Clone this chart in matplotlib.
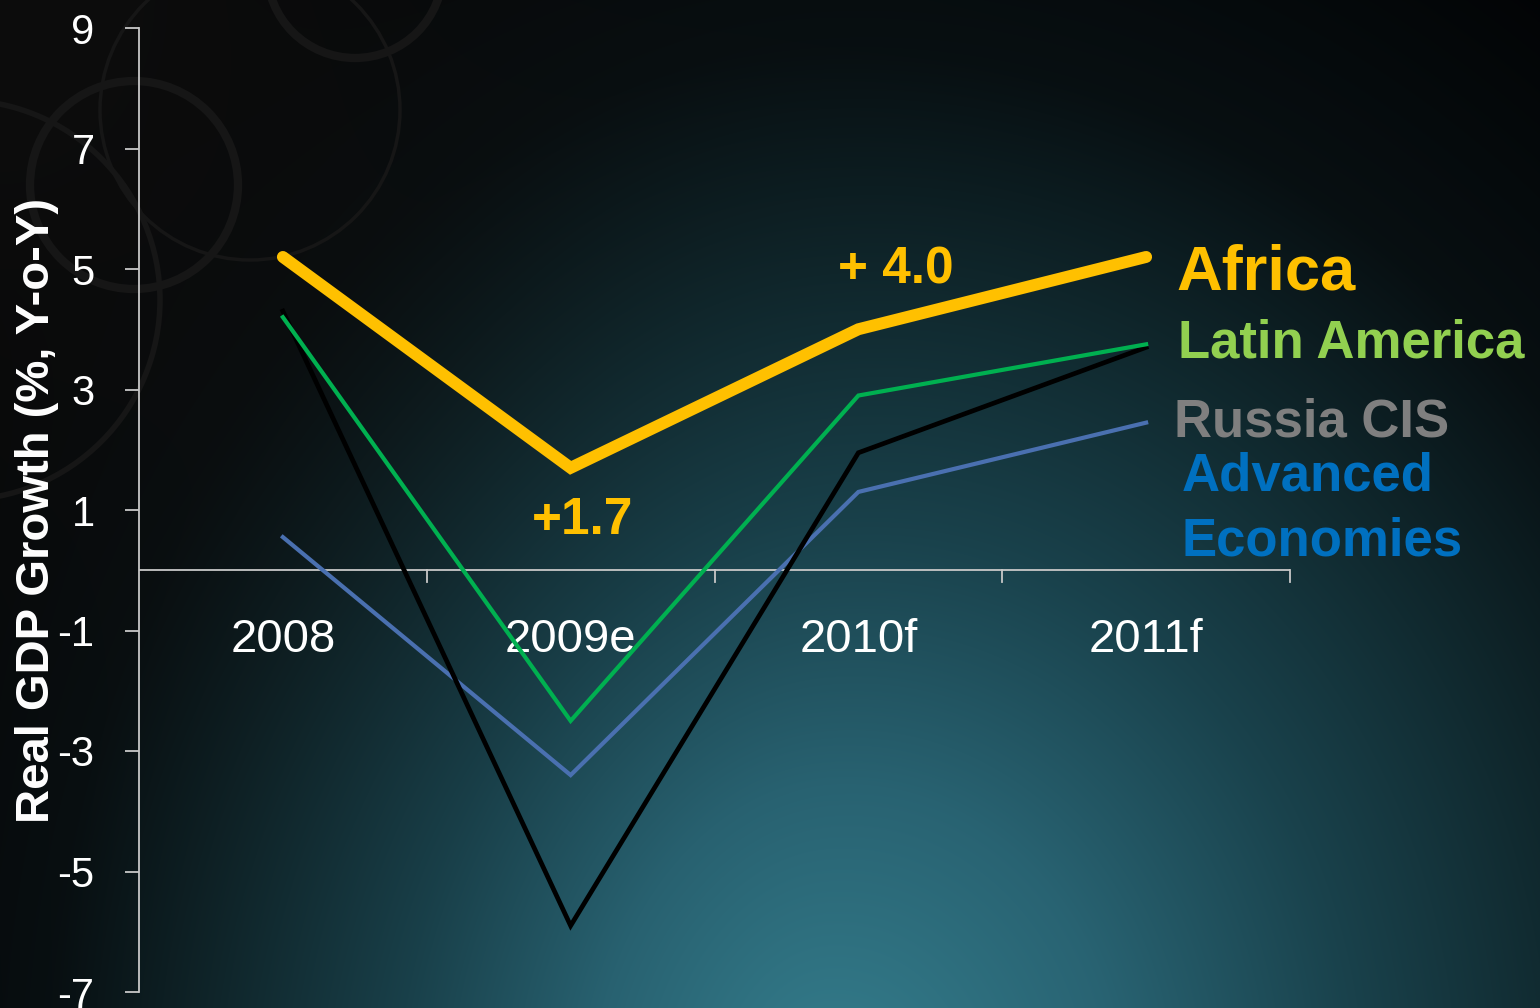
import numpy as np
import matplotlib
matplotlib.use("Agg")
import matplotlib.pyplot as plt
from matplotlib.patches import Circle

# ---- data ----
categories = ["2008", "2009e", "2010f", "2011f"]
africa = [5.2, 1.7, 4.0, 5.2]
latin_america = [4.2, -2.5, 2.9, 3.75]
russia_cis = [4.3, -5.9, 1.95, 3.7]
advanced = [0.55, -3.4, 1.3, 2.45]
yticks = [9, 7, 5, 3, 1, -1, -3, -5, -7]

plt.rcParams['font.family'] = ['Liberation Sans', 'DejaVu Sans']

W, H = 1540, 1008
fig = plt.figure(figsize=(W / 100, H / 100), dpi=100)

# ---- background (radial teal glow) ----
bg = fig.add_axes([0, 0, 1, 1])
yy, xx = np.mgrid[0:H, 0:W]
rx = np.where(xx < 830, 780.0, 950.0)
d = np.sqrt(((xx - 830) / rx) ** 2 + ((yy - 1100) / 1050.0) ** 2)
stops = np.array([0.0, 0.3, 0.55, 0.8, 1.0, 1.3])
cols = np.array([
    [0.21, 0.50, 0.56],
    [0.16, 0.39, 0.45],
    [0.10, 0.26, 0.30],
    [0.06, 0.15, 0.17],
    [0.03, 0.06, 0.07],
    [0.01, 0.015, 0.02],
])
img = np.zeros((H, W, 3))
for c in range(3):
    img[..., c] = np.interp(d, stops, cols[:, c])
# greyish tint in the top-left corner
g = np.exp(-((xx / 520.0) ** 2 + (yy / 620.0) ** 2))
img = img * (1 - g[..., None]) + 0.05 * g[..., None]
bg.imshow(img, extent=[0, W, H, 0], aspect='auto')
# faint decorative rings in the top-left corner
for (cx, cy, r, lw) in [(134, 185, 104, 6), (355, -30, 88, 6), (-40, 300, 200, 4), (250, 110, 150, 2.5)]:
    bg.add_patch(Circle((cx, cy), r, fill=False, ec=(0.085, 0.085, 0.085), lw=lw))
bg.set_xlim(0, W)
bg.set_ylim(H, 0)
bg.axis('off')

# ---- main axes ----
left = 139 / W
right = 1290 / W
bottom = (H - 992) / H
top = (H - 28) / H
ax = fig.add_axes([left, bottom, right - left, top - bottom])
ax.patch.set_alpha(0)

x = np.arange(len(categories))
ax.plot(x, advanced, color='#4A70B0', lw=3.0, zorder=3, solid_joinstyle='miter')
ax.plot(x, russia_cis, color='#000000', lw=3.4, zorder=4, solid_joinstyle='miter')
ax.plot(x, latin_america, color='#00B050', lw=3.0, zorder=5, solid_joinstyle='miter')
ax.plot(x, africa, color='#FFC000', lw=8.6, zorder=6,
        solid_capstyle='round', solid_joinstyle='miter')

ax.set_xlim(-0.5, 3.5)
ax.set_ylim(-7, 9)

axis_col = '#C8C8C8'
for s in ['top', 'right', 'bottom']:
    ax.spines[s].set_visible(False)
ax.spines['left'].set_color(axis_col)
ax.spines['left'].set_linewidth(1.3)

ax.set_yticks(yticks)
ax.set_yticklabels([str(v) for v in yticks])
ax.tick_params(axis='y', colors=axis_col, length=10, width=1.3, pad=22,
               labelsize=30, labelcolor='white')
ax.set_xticks([])

# zero axis line with category boundary ticks
ax.axhline(0, color=axis_col, lw=1.3, zorder=2)
for b in np.arange(0.5, 3.6, 1.0):
    ax.plot([b, b], [0, -0.2], color=axis_col, lw=1.3, zorder=2, clip_on=False)

for i, cat in enumerate(categories):
    ax.text(i, -1.15, cat, color='white', fontsize=34, ha='center', va='center', zorder=1)

# annotations
ax.text(1.04, 0.83, "+1.7", color='#FFC000', fontsize=37, fontweight='bold',
        ha='center', va='center', zorder=7)
ax.text(2.13, 4.98, "+ 4.0", color='#FFC000', fontsize=37, fontweight='bold',
        ha='center', va='center', zorder=7)

# series labels
lbl_x = 3.105
ax.text(lbl_x, 4.93, "Africa", color='#FFC000', fontsize=45.5, fontweight='bold',
        ha='left', va='center', clip_on=False)
ax.text(lbl_x + 0.005, 3.77, "Latin America", color='#92D050', fontsize=38,
        fontweight='bold', ha='left', va='center', clip_on=False)
ax.text(lbl_x - 0.008, 2.45, "Russia CIS", color='#7F7F7F', fontsize=38,
        fontweight='bold', ha='left', va='center', clip_on=False)
ax.text(lbl_x + 0.017, 1.56, "Advanced", color='#0070C0', fontsize=38,
        fontweight='bold', ha='left', va='center', clip_on=False)
ax.text(lbl_x + 0.017, 0.48, "Economies", color='#0070C0', fontsize=38,
        fontweight='bold', ha='left', va='center', clip_on=False)

fig.text(37 / W, 1 - 510 / H, "Real GDP Growth (%, Y-o-Y)", color='white',
         fontsize=34, fontweight='bold', rotation=90, ha='center', va='center')

fig.savefig('out.png', dpi=100)
